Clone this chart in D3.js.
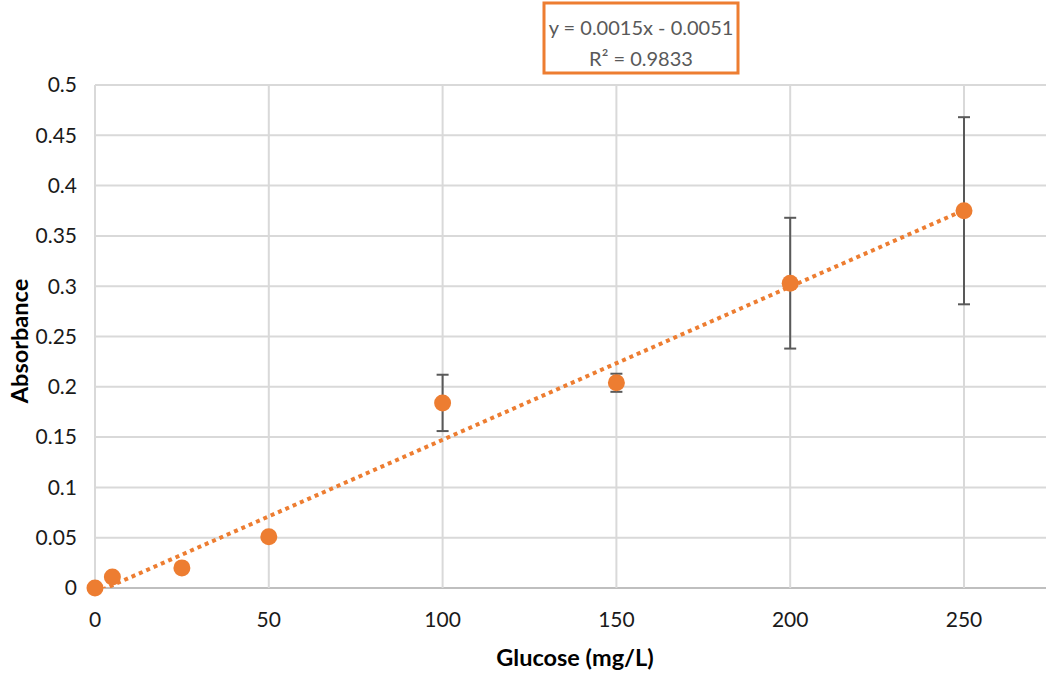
<!DOCTYPE html>
<html>
<head>
<meta charset="utf-8">
<script src="https://cdn.jsdelivr.net/npm/d3@7"></script>
<style>
  html, body { margin: 0; padding: 0; background: #fff; }
  svg { display: block; font-family: Lato, "Open Sans", sans-serif; }
</style>
</head>
<body>
<svg id="chart" width="1046" height="675"></svg>
<script>
// glucose standards (mg/L), mean absorbance and error bar half-width
const glucose = [0, 5, 25, 50, 100, 150, 200, 250];
const absorbance = [0, 0.011, 0.020, 0.051, 0.184, 0.204, 0.303, 0.375];
const errorBars = [0, 0, 0, 0, 0.028, 0.009, 0.065, 0.093];
const xTicks = [0, 50, 100, 150, 200, 250];
const yTicks = [0, 0.05, 0.1, 0.15, 0.2, 0.25, 0.3, 0.35, 0.4, 0.45, 0.5];
const equationLines = ['y = 0.0015x - 0.0051', 'R\u00b2 = 0.9833'];

const svg = d3.select('#chart');
const W = 1046, H = 675;
const plotLeft = 95, plotTop = 85, plotBottom = 588;

const x = d3.scaleLinear().domain([0, 300]).range([plotLeft, plotLeft + 6 * 173.8]);
const y = d3.scaleLinear().domain([0, 0.5]).range([plotBottom, plotTop]);

// least squares fit for the dotted trend line
const mx = d3.mean(glucose), my = d3.mean(absorbance);
const sxy = d3.sum(glucose, (v, i) => (v - mx) * (absorbance[i] - my));
const sxx = d3.sum(glucose, v => (v - mx) * (v - mx));
const slope = sxy / sxx;
const intercept = my - slope * mx;

svg.append('defs').append('clipPath').attr('id', 'plot')
  .append('rect').attr('x', plotLeft).attr('y', plotTop - 2)
  .attr('width', W - plotLeft).attr('height', plotBottom - plotTop + 2);

// horizontal grid
svg.append('g')
  .selectAll('line').data(yTicks).join('line')
  .attr('x1', plotLeft).attr('x2', W)
  .attr('y1', d => y(d)).attr('y2', d => y(d))
  .attr('stroke', d => d === 0 ? '#bfbfbf' : '#d9d9d9')
  .attr('stroke-width', 2);

// vertical grid
svg.append('g')
  .selectAll('line').data(xTicks).join('line')
  .attr('x1', d => x(d)).attr('x2', d => x(d))
  .attr('y1', plotTop).attr('y2', plotBottom)
  .attr('stroke', '#d9d9d9')
  .attr('stroke-width', 2);

// tick labels
svg.append('g')
  .selectAll('text').data(yTicks).join('text')
  .attr('x', 77).attr('y', d => y(d))
  .attr('dy', '0.35em')
  .attr('text-anchor', 'end')
  .attr('font-size', 21)
  .attr('fill', '#1a1a1a')
  .text(d => d3.format('~g')(d));

svg.append('g')
  .selectAll('text').data(xTicks).join('text')
  .attr('x', d => x(d)).attr('y', 620)
  .attr('dy', '0.35em')
  .attr('text-anchor', 'middle')
  .attr('font-size', 21)
  .attr('fill', '#1a1a1a')
  .text(d => d);

// axis titles
svg.append('text')
  .attr('x', 575).attr('y', 658)
  .attr('dy', '0.35em')
  .attr('text-anchor', 'middle')
  .attr('font-size', 23.5).attr('font-weight', 'bold')
  .attr('fill', '#000')
  .text('Glucose (mg/L)');

svg.append('text')
  .attr('transform', 'translate(20,341) rotate(-90)')
  .attr('dy', '0.35em')
  .attr('text-anchor', 'middle')
  .attr('font-size', 23.5).attr('font-weight', 'bold')
  .attr('fill', '#000')
  .text('Absorbance');

// trend line
const plot = svg.append('g').attr('clip-path', 'url(#plot)');
plot.append('line')
  .attr('x1', x(0)).attr('y1', y(intercept))
  .attr('x2', x(250)).attr('y2', y(intercept + slope * 250))
  .attr('stroke', '#ed7d31')
  .attr('stroke-width', 4)
  .attr('stroke-dasharray', '4 4');

// error bars
const eb = svg.append('g')
  .selectAll('g')
  .data(glucose.map((g, i) => ({ g, v: absorbance[i], e: errorBars[i] })).filter(d => d.e > 0))
  .join('g')
  .attr('stroke', '#595959')
  .attr('stroke-width', 2);
eb.append('line')
  .attr('x1', d => x(d.g)).attr('x2', d => x(d.g))
  .attr('y1', d => y(d.v + d.e)).attr('y2', d => y(d.v - d.e));
eb.append('line')
  .attr('x1', d => x(d.g) - 6).attr('x2', d => x(d.g) + 6)
  .attr('y1', d => y(d.v + d.e)).attr('y2', d => y(d.v + d.e));
eb.append('line')
  .attr('x1', d => x(d.g) - 6).attr('x2', d => x(d.g) + 6)
  .attr('y1', d => y(d.v - d.e)).attr('y2', d => y(d.v - d.e));

// markers
svg.append('g')
  .selectAll('circle').data(glucose).join('circle')
  .attr('cx', d => x(d))
  .attr('cy', (d, i) => y(absorbance[i]))
  .attr('r', 8.5)
  .attr('fill', '#ed7d31');

// equation box
const box = svg.append('g');
box.append('rect')
  .attr('x', 544).attr('y', 3).attr('width', 194).attr('height', 70)
  .attr('fill', '#fff')
  .attr('stroke', '#ed7d31')
  .attr('stroke-width', 3);
box.selectAll('text').data(equationLines).join('text')
  .attr('x', 641).attr('y', (d, i) => 28 + i * 31)
  .attr('dy', '0.35em')
  .attr('text-anchor', 'middle')
  .attr('font-size', 20)
  .attr('fill', '#595959')
  .text(d => d);
</script>
</body>
</html>
